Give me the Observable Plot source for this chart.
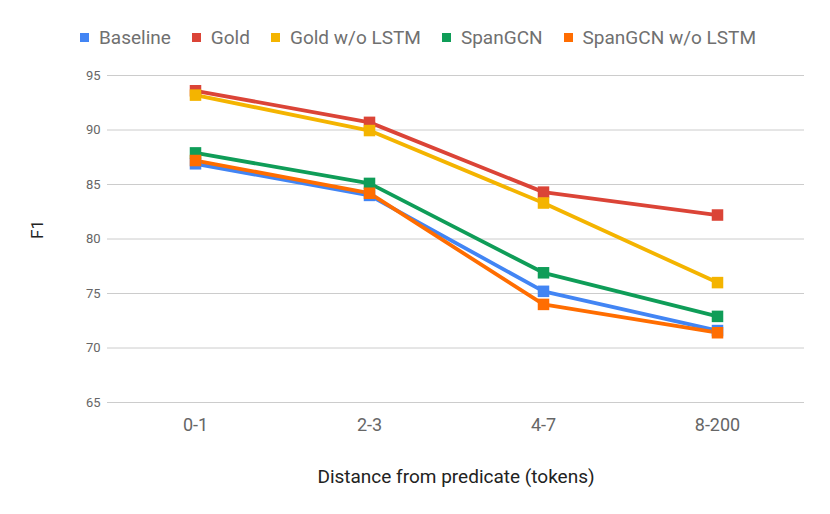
<!DOCTYPE html>
<html><head><meta charset="utf-8">
<script src="https://cdn.jsdelivr.net/npm/d3@7"></script>
<script src="https://cdn.jsdelivr.net/npm/@observablehq/plot@0.6"></script>
<style>
body{margin:0;background:#fff;font-family:Roboto,sans-serif;}
#legend{height:60px;display:flex;justify-content:center;align-items:center;gap:21px;font-size:19px;color:#707070;padding-left:6px;padding-top:15px;box-sizing:border-box;}
#legend span.item{display:flex;align-items:center;gap:10px}
#legend span.sw{width:9px;height:9px;display:inline-block}
</style></head>
<body>
<div id="legend"></div>
<div id="chart"></div>
<script>
const categories = ["0-1", "2-3", "4-7", "8-200"];
const seriesNames = ["Baseline", "Gold", "Gold w/o LSTM", "SpanGCN", "SpanGCN w/o LSTM"];
const colors = ["#4285F4", "#DB4437", "#F4B400", "#0F9D58", "#FF6D01"];
const baseline = [86.9, 84.0, 75.2, 71.6];
const gold = [93.6, 90.7, 84.3, 82.2];
const goldNoLstm = [93.2, 89.95, 83.3, 76.0];
const spanGCN = [87.9, 85.1, 76.9, 72.9];
const spanGCNNoLstm = [87.2, 84.2, 74.0, 71.4];
const yTicks = [65, 70, 75, 80, 85, 90, 95];

const allSeries = [baseline, gold, goldNoLstm, spanGCN, spanGCNNoLstm];
const data = [];
allSeries.forEach((vals, i) => vals.forEach((v, j) => data.push({series: seriesNames[i], cat: categories[j], value: v})));

const leg = document.getElementById("legend");
seriesNames.forEach((n, i) => {
  const it = document.createElement("span"); it.className = "item";
  const sw = document.createElement("span"); sw.className = "sw"; sw.style.background = colors[i];
  const t = document.createElement("span"); t.textContent = n;
  it.appendChild(sw); it.appendChild(t); leg.appendChild(it);
});

const plot = Plot.plot({
  width: 830, height: 454,
  marginTop: 15, marginBottom: 112, marginLeft: 107, marginRight: 26,
  style: {fontFamily: "Roboto, sans-serif", background: "#fff"},
  x: {type: "point", domain: categories, padding: 0.5},
  y: {domain: [65, 95], ticks: yTicks},
  color: {domain: seriesNames, range: colors},
  marks: [
    Plot.gridY(yTicks, {stroke: "#ccc", strokeOpacity: 1, strokeWidth: 1}),
    Plot.axisY(yTicks, {tickSize: 0, tickPadding: 7, fontSize: 13, fill: "#666", label: null}),
    Plot.axisX({tickSize: 0, tickPadding: 16, fontSize: 18, fill: "#666", label: null}),
    Plot.text(["F1"], {frameAnchor: "left", dx: -70, rotate: -90, fontSize: 17, fill: "#222"}),
    Plot.text(["Distance from predicate (tokens)"], {frameAnchor: "bottom", dy: 80, fontSize: 19, fill: "#222"}),
    Plot.line(data, {x: "cat", y: "value", z: "series", stroke: "series", strokeWidth: 3.8}),
    Plot.dot(data, {x: "cat", y: "value", fill: "series", symbol: "square", r: 6.5})
  ]
});
document.getElementById("chart").appendChild(plot);
</script>
</body></html>
